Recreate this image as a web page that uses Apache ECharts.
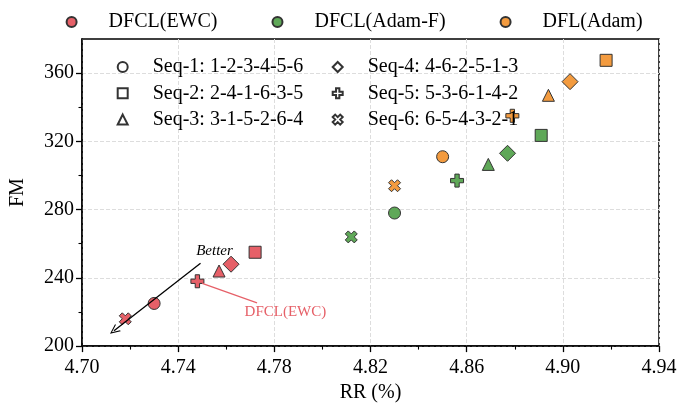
<!DOCTYPE html>
<html>
<head>
<meta charset="utf-8">
<script src="https://cdn.jsdelivr.net/npm/echarts@6/dist/echarts.min.js"></script>
<style>html,body{margin:0;padding:0;background:#fff;}#c{width:691px;height:408px;}</style>
</head>
<body>
<div id="c"></div>
<script>
// ---- data ----
const methodNames = ['DFCL(EWC)', 'DFCL(Adam-F)', 'DFL(Adam)'];
const seqNames = ['Seq-1: 1-2-3-4-5-6', 'Seq-2: 2-4-1-6-3-5', 'Seq-3: 3-1-5-2-6-4',
                  'Seq-4: 4-6-2-5-1-3', 'Seq-5: 5-3-6-1-4-2', 'Seq-6: 6-5-4-3-2-1'];
const ewcRR   = [4.730, 4.772, 4.757, 4.762, 4.748, 4.718];
const ewcFM   = [225, 255, 244, 248, 238, 216];
const adamFRR = [4.830, 4.891, 4.869, 4.877, 4.856, 4.812];
const adamFFM = [278, 323.5, 306.5, 313, 297, 264];
const adamRR  = [4.850, 4.918, 4.894, 4.903, 4.879, 4.830];
const adamFM  = [311, 367.5, 347, 355, 335, 294];
const xTicks = [4.70, 4.74, 4.78, 4.82, 4.86, 4.90, 4.94];
const yTicks = [200, 240, 280, 320, 360];
const yMinorTicks = [220, 260, 300, 340];
// annotations (data coordinates)
const arrowStart = [4.7493, 248.6];
const arrowEnd = [4.7133, 209];
const betterPos = [4.7551, 255.5];
const ewcLabelLineStart = [4.7500, 236.8];
const ewcLabelLineEnd = [4.7728, 225.3];
const ewcLabelPos = [4.7846, 220.1];

// ---- styles ----
const FONT = 'Liberation Serif';
const colors = ['#E66068', '#5FA858', '#F39B3F'];
const PLUS = 'path://M2,0H4V2H6V4H4V6H2V4H0V2H2Z';
const XS = 'path://M1.5,0L3,1.5L4.5,0L6,1.5L4.5,3L6,4.5L4.5,6L3,4.5L1.5,6L0,4.5L1.5,3L0,1.5Z';
const CHEVRON = 'path://M0,10L5,0L10,10L8.8,10L5,2.4L1.2,10Z';
const seqSymbols = ['circle', 'rect', 'triangle', 'diamond', PLUS, XS];
const seqSizes = [12, 12, 12, 16, 13, 12];

const methodData = [[ewcRR, ewcFM], [adamFRR, adamFFM], [adamRR, adamFM]];

const series = methodData.map((d, m) => {
  const s = {
    name: methodNames[m],
    type: 'scatter',
    z: 3,
    data: d[0].map((x, i) => ({
      value: [x, d[1][i]],
      symbol: seqSymbols[i],
      symbolSize: seqSizes[i]
    })),
    itemStyle: { color: colors[m], borderColor: '#333', borderWidth: 1, opacity: 1 },
    emphasis: { disabled: true }
  };
  if (m === 0) {
    s.markLine = {
      silent: true,
      animation: false,
      label: { show: false },
      data: [
        [{ coord: arrowStart, symbol: 'none' },
         { coord: arrowEnd, symbol: CHEVRON, symbolSize: [9, 10] , lineStyle: { color: '#000', width: 1.3, type: 'solid' } }],
        [{ coord: ewcLabelLineStart, symbol: 'none' },
         { coord: ewcLabelLineEnd, symbol: 'none', lineStyle: { color: '#E66068', width: 1.2, type: 'solid' } }]
      ],
      lineStyle: { type: 'solid' }
    };
    s.markPoint = {
      silent: true,
      animation: false,
      symbol: 'circle',
      symbolSize: 1,
      itemStyle: { color: 'rgba(0,0,0,0)', borderWidth: 0 },
      data: [
        { coord: betterPos, label: { show: true, position: 'inside', formatter: 'Better', fontStyle: 'italic', fontSize: 15, color: '#000', fontFamily: FONT } },
        { coord: ewcLabelPos, label: { show: true, position: 'inside', formatter: 'DFCL(EWC)', fontSize: 15, color: '#E66068', fontFamily: FONT } }
      ]
    };
  }
  return s;
});

seqNames.forEach((n, i) => {
  series.push({
    name: n, type: 'scatter', data: [], symbol: seqSymbols[i],
    itemStyle: { color: '#fff', borderColor: '#000', borderWidth: 1.2 }
  });
});

const seqLegend = (names, icons, left) => ({
  data: names.map((n, i) => ({ name: n, icon: icons[i] })),
  orient: 'vertical',
  left: left, top: 57, padding: 0,
  itemWidth: 10, itemHeight: 10, itemGap: 6.3,
  selectedMode: false,
  textStyle: { fontSize: 20, lineHeight: 20, color: '#000', fontFamily: FONT, padding: [0, 0, 0, 20] }
});

const option = {
  animation: false,
  textStyle: { fontFamily: FONT },
  grid: { left: 81, right: 32, top: 39, bottom: 56, show: true, borderColor: '#000', borderWidth: 1.5, backgroundColor: 'transparent' },
  legend: [
    {
      data: methodNames.map(n => ({ name: n, icon: 'circle' })),
      left: 65.6, top: 12, padding: 0,
      itemWidth: 10, itemHeight: 10, itemGap: 54,
      selectedMode: false,
      textStyle: { fontSize: 20, color: '#000', fontFamily: FONT, padding: [0, 0, 0, 27] }
    },
    seqLegend(seqNames.slice(0, 3), seqSymbols.slice(0, 3), 116.7),
    seqLegend(seqNames.slice(3, 6), seqSymbols.slice(3, 6), 331.7)
  ],
  xAxis: {
    type: 'value', min: xTicks[0], max: xTicks[xTicks.length - 1], interval: 0.04,
    name: 'RR (%)', nameLocation: 'middle', nameGap: 35,
    nameTextStyle: { fontSize: 20, color: '#000', fontFamily: FONT },
    axisLine: { show: true, lineStyle: { color: '#000', width: 1.5 } },
    axisTick: { show: true, inside: false, length: 6, lineStyle: { color: '#000', width: 1.3 } },
    minorTick: { show: true, splitNumber: 2, length: 3.5, lineStyle: { color: '#000', width: 1.1 } },
    axisLabel: { fontSize: 20, color: '#000', margin: 12, fontFamily: FONT, formatter: v => v.toFixed(2) },
    splitLine: { show: true, lineStyle: { color: '#dddddd', width: 1, type: [4, 2] } }
  },
  yAxis: [
    {
      type: 'value', min: 200, max: 380, interval: 40, position: 'left',
      name: 'FM', nameLocation: 'middle', nameGap: 54,
      nameTextStyle: { fontSize: 20, color: '#000', fontFamily: FONT },
      axisLine: { show: true, lineStyle: { color: '#000', width: 1.5 } },
      axisTick: { show: true, inside: false, length: 6, customValues: yTicks, lineStyle: { color: '#000', width: 1.3 } },
      axisLabel: { fontSize: 20, color: '#000', margin: 8, fontFamily: FONT, customValues: yTicks },
      splitLine: { show: true, lineStyle: { color: '#dddddd', width: 1, type: [4, 2] } }
    },
    {
      type: 'value', min: 200, max: 380, interval: 40, position: 'left',
      axisLine: { show: false },
      axisTick: { show: true, inside: false, length: 3.5, customValues: yMinorTicks, lineStyle: { color: '#000', width: 1.1 } },
      axisLabel: { show: false },
      splitLine: { show: false }
    }
  ],
  series: series
};

const chart = echarts.init(document.getElementById('c'), null, { renderer: 'canvas' });
chart.setOption(option);
</script>
</body>
</html>
